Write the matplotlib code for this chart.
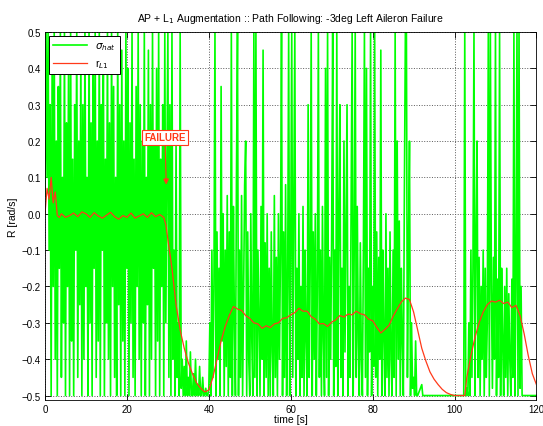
import numpy as np
import matplotlib
matplotlib.use('Agg')
import matplotlib.pyplot as plt

plt.rcParams['font.family'] = ['Liberation Sans', 'DejaVu Sans']

# sigma_hat : segments sampled every 0.25 s (values saturate at +-0.5)
sig_a_start = 0.0
sig_a = [0.05, 0.5, 0.1, 0.5, -0.1, 0.3, -0.5, 0.45, -0.2, 0.5,
         -0.4, 0.2, -0.5, 0.35, -0.15, 0.5, -0.45, 0.1, -0.3, 0.5,
         -0.5, 0.25, -0.2, 0.4, -0.5, 0.5, -0.35, 0.15, -0.5, 0.3,
         -0.1, 0.5, -0.45, 0.2, -0.25, 0.45, -0.5, 0.3, -0.4, 0.5,
         -0.2, 0.1, -0.5, 0.5, -0.3, 0.25, -0.5, 0.4, -0.15, 0.5,
         -0.45, 0.2, -0.35, 0.5, -0.5, 0.3, -0.1, 0.45, -0.5, 0.15,
         -0.3, 0.5, -0.4, 0.25, -0.5, 0.5, -0.2, 0.35, -0.45, 0.1,
         -0.5, 0.5, -0.25, 0.3, -0.5, 0.45, -0.35, 0.2, -0.5, 0.5,
         -0.15, 0.4, -0.5, 0.25, -0.3, 0.5, -0.45, 0.15, -0.5, 0.35,
         -0.2, 0.5, -0.4, 0.3, -0.5, 0.2, -0.3, 0.5, -0.5, 0.1,
         -0.25, 0.45, -0.5, 0.3, -0.4, 0.5, -0.15, 0.2, -0.5, 0.4,
         -0.35, 0.5, -0.5, 0.15, -0.2, 0.3, -0.5, 0.5, -0.3, 0.1]
sig_b_start = 30.0
sig_b = [0.5, -0.45, 0.3, -0.5, 0.5, -0.4, -0.1, -0.5, 0.2, -0.45,
         -0.3, -0.5, 0.5, -0.48, -0.4, -0.5, -0.42, -0.5, -0.35, -0.5,
         -0.45, -0.5, -0.38, -0.5, -0.5, -0.44, -0.5, -0.4, -0.5, -0.47,
         -0.5, -0.42, -0.5, -0.5, -0.45, -0.5, -0.5, -0.48, -0.5, -0.5]
sig_c_start = 40.0
sig_c = [-0.48, -0.3, -0.5, -0.1, -0.45, -0.2, 0.5, -0.5, -0.05, -0.4,
         -0.15, -0.5, 0.35, -0.35, 0.0, -0.5, -0.1, -0.42, 0.05, -0.5,
         -0.05, -0.45, 0.5, -0.5, 0.02, -0.3, -0.5, 0.1, 0.5, -0.5,
         -0.1, -0.45, 0.05, -0.5, -0.2, 0.08, 0.2, -0.5, -0.05, -0.4,
         -0.5, 0.0, -0.35, -0.5, 0.5, -0.45, 0.5, -0.5, -0.1, -0.3,
         -0.5, 0.02, -0.4, 0.45, -0.5, -0.08, -0.45, 0.0, -0.5, -0.15,
         -0.5, -0.05, -0.38, -0.5, 0.05, -0.45, -0.12, -0.5, 0.0, -0.4,
         -0.1, 0.5, -0.5, -0.05, -0.45, 0.08, -0.5, -0.2, 0.5, -0.5,
         -0.1, 0.5, -0.45, 0.05, 0.5, -0.5, -0.15, -0.4, 0.0, -0.5,
         -0.2, -0.45, 0.02, -0.5, -0.1, -0.35, -0.5, 0.3, -0.45, -0.15,
         0.5, -0.5, -0.05, -0.4, 0.0, -0.5, -0.2, 0.5, -0.45, -0.1,
         -0.5, 0.02, -0.35, -0.5, 0.4, -0.45, 0.5, -0.5, -0.12, -0.4,
         -0.05, 0.5, -0.5, -0.1, -0.42, 0.5, -0.5, 0.0, 0.3, -0.45,
         -0.15, -0.5, 0.2, -0.38, -0.05, 0.3, -0.5, -0.2, -0.45, 0.05,
         0.5, -0.5, -0.1, 0.5, -0.45, 0.02, -0.35, -0.5, -0.08, -0.4,
         -0.5, -0.1, 0.5, -0.45, 0.4, -0.5, -0.15, -0.38, 0.5, -0.5,
         -0.2, -0.42, 0.5, -0.45, -0.05, -0.5, -0.12, -0.4, 0.45, -0.5,
         -0.1, -0.35, -0.5, 0.0, -0.45, -0.15, -0.5, -0.05, -0.4, -0.5,
         -0.1, -0.45, 0.5, -0.5, 0.2, -0.4, -0.02, -0.5, -0.15, -0.35,
         -0.5, 0.05, 0.5, 0.5, -0.45, -0.1, 0.2, -0.5, -0.3, -0.48]
# saturated stretch, given as (time, value) points
sig_d_t = [90.0, 90.25, 90.5, 90.75, 91.0, 92.0, 92.25, 102.25]
sig_d = [-0.45, -0.5, -0.35, -0.5, -0.5, -0.47, -0.5, -0.5]
sig_e_start = 102.5
sig_e = [0.5, -0.5, -0.48, -0.5, -0.3, -0.5, -0.1, -0.45, -0.15, 0.5,
         -0.5, -0.08, 0.2, -0.45, -0.12, -0.5, -0.2, -0.4, -0.1, -0.5,
         -0.15, -0.45, -0.3, 0.5, -0.5, 0.5, -0.2, -0.48, -0.12, -0.4,
         0.5, -0.5, -0.18, -0.45, 0.5, -0.5, -0.15, -0.35, -0.5, -0.2,
         -0.45, -0.15, -0.5, -0.22, -0.4, -0.5, -0.18, -0.45, 0.5, -0.5,
         -0.2, 0.5, -0.5, 0.5, -0.48, -0.2, -0.5, -0.5]
sig_f_t = [117.0, 120.0]
sig_f = [-0.5, -0.5]

# r_L1
r_t = [0, 0.5, 1, 1.5, 2, 2.5, 3, 3.5, 4, 5, 6, 7, 8, 9, 10, 11, 12, 13, 14, 15,
       16, 17, 18, 19, 20, 21, 22, 23, 24, 25, 26, 27, 28, 29, 29.5, 30, 31, 32,
       33, 34, 35, 36, 37, 38, 39, 40, 41, 42, 43, 44, 45, 46, 47, 48, 49, 50,
       51, 52, 53, 54, 55, 56, 57, 58, 59, 60, 61, 62, 63, 64, 65, 66, 67, 68,
       69, 70, 71, 72, 73, 74, 75, 76, 77, 78, 79, 80, 81, 82, 83, 84, 85, 86,
       87, 88, 89, 90, 91, 92, 93, 94, 95, 96, 97, 98, 99, 100, 102.5, 103, 104,
       105, 106, 107, 108, 109, 110, 111, 112, 113, 114, 115, 116, 117, 118, 119, 120]
r_v = [0.0, 0.07, 0.04, 0.1, 0.03, 0.06, -0.005, -0.01, 0.0, -0.01, -0.005, 0.002,
       -0.008, 0.005, 0.0, -0.01, 0.003, -0.006, -0.012, -0.004, 0.004, -0.008,
       -0.015, -0.005, -0.01, 0.002, -0.012, -0.006, 0.0, -0.01, 0.003, -0.008,
       -0.002, -0.01, -0.03, -0.07, -0.15, -0.25, -0.32, -0.37, -0.41, -0.44,
       -0.465, -0.48, -0.49, -0.485, -0.45, -0.4, -0.35, -0.31, -0.28, -0.255,
       -0.262, -0.266, -0.28, -0.288, -0.3, -0.303, -0.315, -0.308, -0.313, -0.303,
       -0.3, -0.288, -0.286, -0.278, -0.272, -0.26, -0.268, -0.268, -0.283, -0.29,
       -0.303, -0.302, -0.31, -0.298, -0.292, -0.28, -0.284, -0.276, -0.278, -0.268,
       -0.275, -0.278, -0.29, -0.294, -0.312, -0.328, -0.318, -0.307, -0.282, -0.262,
       -0.243, -0.232, -0.236, -0.27, -0.32, -0.37, -0.405, -0.435, -0.455, -0.47,
       -0.483, -0.492, -0.497, -0.5, -0.5, -0.45, -0.39, -0.34, -0.3, -0.27, -0.25,
       -0.24, -0.243, -0.238, -0.247, -0.243, -0.258, -0.252, -0.28, -0.33, -0.39,
       -0.44, -0.47]

fail_t, fail_y = 29.6, 0.08
fail_text_t, fail_text_y = 29.3, 0.21

def seg(start, vals):
    return start + 0.25 * np.arange(len(vals)), np.array(vals)

parts = [seg(sig_a_start, sig_a), seg(sig_b_start, sig_b), seg(sig_c_start, sig_c),
         (np.array(sig_d_t), np.array(sig_d)), seg(sig_e_start, sig_e),
         (np.array(sig_f_t), np.array(sig_f))]
sig_t = np.concatenate([p[0] for p in parts])
sig_v = np.concatenate([p[1] for p in parts])

red = '#ff3a1a'
fig = plt.figure(figsize=(5.43, 4.27), dpi=100)
ax = fig.add_axes([0.0829, 0.062, 0.905, 0.8607])

ax.plot(sig_t, sig_v, color='#00ff00', lw=1.2, label=r'$\sigma_{hat}$')
ax.plot(r_t, r_v, color=red, lw=0.9, label=r'r$_{L1}$')

ax.annotate('FAILURE', xy=(fail_t, fail_y), xytext=(fail_text_t, fail_text_y),
            ha='center', va='center', color=red, fontsize=7, fontweight='bold',
            bbox=dict(boxstyle='square,pad=0.25', fc='white', ec=red, lw=0.8),
            arrowprops=dict(arrowstyle='-|>', color=red, lw=0.8, mutation_scale=8,
                            shrinkA=0, shrinkB=0))

ax.set_xlim(0, 120)
ax.set_ylim(-0.511, 0.5)
ax.set_xticks(np.arange(0, 121, 20))
ax.set_yticks(np.round(np.arange(-0.5, 0.51, 0.1), 1))
ax.tick_params(direction='in', top=True, right=True, labelsize=7, length=4, width=0.6,
               pad=3)
ax.grid(True, linestyle=':', color='0.35', lw=0.7)
for s in ax.spines.values():
    s.set_linewidth(0.6)

ax.set_title(r'AP + L$_1$ Augmentation :: Path Following: -3deg Left Aileron Failure',
             fontsize=7.5, pad=8)
ax.set_xlabel('time [s]', fontsize=7.5, labelpad=0.5)
ax.set_ylabel('R [rad/s]', fontsize=7.5, labelpad=3)

leg = ax.legend(loc='upper left', fontsize=7.5, fancybox=False, framealpha=1,
                edgecolor='black', handlelength=3.2, borderaxespad=0.4)
leg.get_frame().set_linewidth(0.7)

fig.savefig('out.png', dpi=100)
